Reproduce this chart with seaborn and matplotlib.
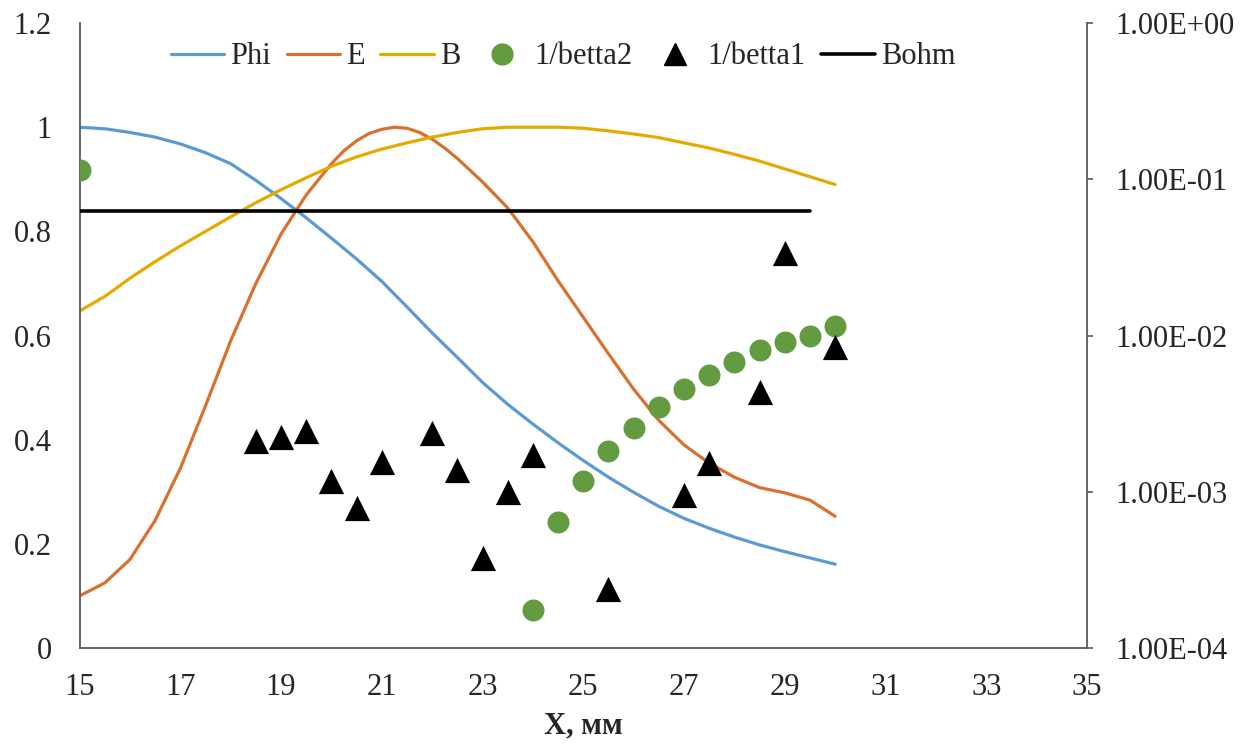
import seaborn as sns
import matplotlib.pyplot as plt
from matplotlib.lines import Line2D

# smooth curves (left axis)
x_curve = [15, 15.5, 16, 16.5, 17, 17.5, 18, 18.5, 19, 19.5, 20, 20.5, 21, 21.5, 22, 22.5,
           23, 23.5, 24, 24.5, 25, 25.5, 26, 26.5, 27, 27.5, 28, 28.5, 29, 29.5, 30]
phi = [1.0, 0.997, 0.99, 0.981, 0.968, 0.951, 0.93, 0.898, 0.863, 0.826, 0.787, 0.747, 0.704,
       0.655, 0.605, 0.558, 0.51, 0.468, 0.43, 0.394, 0.36, 0.328, 0.299, 0.272, 0.249, 0.23,
       0.213, 0.198, 0.185, 0.173, 0.161]
b_field = [0.647, 0.675, 0.71, 0.742, 0.772, 0.80, 0.828, 0.855, 0.88, 0.903, 0.925, 0.943, 0.958,
           0.97, 0.981, 0.99, 0.997, 1.0, 1.0, 1.0, 0.998, 0.993, 0.987, 0.98, 0.97, 0.96, 0.948,
           0.935, 0.92, 0.905, 0.89]
# E has a sharper peak, read a bit denser around it
x_e = [15, 15.5, 16, 16.5, 17, 17.5, 18, 18.5, 19, 19.5, 20, 20.25, 20.5, 20.75, 21, 21.25,
       21.5, 21.75, 22, 22.25, 22.5, 23, 23.5, 24, 24.5, 25, 25.5, 26, 26.5, 27, 27.5, 28,
       28.5, 29, 29.5, 30]
e_field = [0.10, 0.125, 0.17, 0.245, 0.345, 0.465, 0.59, 0.70, 0.795, 0.87, 0.93, 0.955, 0.974,
           0.988, 0.996, 1.0, 0.998, 0.99, 0.977, 0.96, 0.94, 0.895, 0.845, 0.78, 0.705, 0.635,
           0.565, 0.497, 0.437, 0.39, 0.355, 0.328, 0.308, 0.298, 0.284, 0.253]

# markers (right, log axis)
x_b2 = [15, 24, 24.5, 25, 25.5, 26, 26.5, 27, 27.5, 28, 28.5, 29, 29.5, 30]
betta2 = [0.115, 1.76e-4, 6.4e-4, 1.17e-3, 1.82e-3, 2.56e-3, 3.48e-3, 4.55e-3, 5.59e-3,
          6.77e-3, 8.07e-3, 9.08e-3, 1.0e-2, 1.15e-2]
x_b1 = [18.5, 19, 19.5, 20, 20.5, 21, 22, 22.5, 23, 23.5, 24, 25.5, 27, 27.5, 28.5, 29, 30]
betta1 = [2.12e-3, 2.25e-3, 2.46e-3, 1.18e-3, 7.9e-4, 1.56e-3, 2.37e-3, 1.38e-3, 3.75e-4,
          9.95e-4, 1.72e-3, 2.38e-4, 9.6e-4, 1.53e-3, 4.35e-3, 3.38e-2, 8.4e-3]
x_bohm = [15, 29.5]
bohm = [0.0625, 0.0625]

left_ticks = [0, 0.2, 0.4, 0.6, 0.8, 1.0, 1.2]
left_labels = ["0", "0.2", "0.4", "0.6", "0.8", "1", "1.2"]
right_ticks = [1e-4, 1e-3, 1e-2, 1e-1, 1e0]
right_labels = ["1.00E-04", "1.00E-03", "1.00E-02", "1.00E-01", "1.00E+00"]
x_ticks = list(range(15, 36, 2))

sns.set_theme(style="white")
plt.rcParams['font.family'] = ['Liberation Serif', 'DejaVu Serif']
fs = 22

fig = plt.figure(figsize=(12.51, 7.44), dpi=100)
ax = fig.add_axes([0.0636, 0.129, 0.8053, 0.840])
ax2 = ax.twinx()

c_phi, c_e, c_b, c_g = "#5B9BD5", "#D9702F", "#E5AA00", "#629B40"

sns.lineplot(x=x_curve, y=phi, ax=ax, color=c_phi, linewidth=2.3, legend=False)
sns.lineplot(x=x_e, y=e_field, ax=ax, color=c_e, linewidth=2.3, legend=False)
sns.lineplot(x=x_curve, y=b_field, ax=ax, color=c_b, linewidth=2.3, legend=False)

sns.scatterplot(x=x_b2, y=betta2, ax=ax2, color=c_g, marker="o", s=250, linewidth=0,
                legend=False)
sns.scatterplot(x=x_b1, y=betta1, ax=ax2, color="black", marker="^", s=330, linewidth=0,
                legend=False)
sns.lineplot(x=x_bohm, y=bohm, ax=ax2, color="black", linewidth=2.6, legend=False)

ax.set_xlim(15, 35)
ax.set_ylim(0, 1.2)
ax.set_xticks(x_ticks)
ax.set_xticklabels([str(t) for t in x_ticks], fontsize=fs)
ax.set_yticks(left_ticks)
ax.set_yticklabels(left_labels, fontsize=fs)
ax.tick_params(axis='both', length=0)
ax.tick_params(axis='x', pad=18)
ax.tick_params(axis='y', pad=20)

ax2.set_yscale('log')
ax2.set_ylim(1e-4, 1)
ax2.set_yticks(right_ticks)
ax2.set_yticklabels(right_labels, fontsize=fs)
ax2.minorticks_off()
ax2.tick_params(axis='y', length=4.5, width=1.2, color="#595959", pad=16, direction='out')

for a in (ax, ax2):
    a.spines['top'].set_visible(False)
    for s in ('left', 'bottom', 'right'):
        a.spines[s].set_color("#595959")
        a.spines[s].set_linewidth(1.3)
ax.spines['right'].set_visible(False)
ax2.spines['left'].set_visible(False)
ax2.spines['bottom'].set_visible(False)

ax.set_xlabel("X, мм", fontsize=fs, fontweight='bold', labelpad=7)

handles = [
    Line2D([], [], color=c_phi, lw=2.3),
    Line2D([], [], color=c_e, lw=2.3),
    Line2D([], [], color=c_b, lw=2.3),
    Line2D([], [], color=c_g, marker='o', ls='none', markersize=15),
    Line2D([], [], color='black', marker='^', ls='none', markersize=16),
    Line2D([], [], color='black', lw=2.6),
]
labels = ["Phi", "E", "B", "1/betta2", "1/betta1", "Bohm"]
ax.legend(handles, labels, loc='center', bbox_to_anchor=(0.48, 0.946), ncol=6,
          frameon=False, fontsize=fs, handlelength=1.75, handletextpad=0.2,
          columnspacing=0.5)

fig.savefig("out.png", dpi=100)
